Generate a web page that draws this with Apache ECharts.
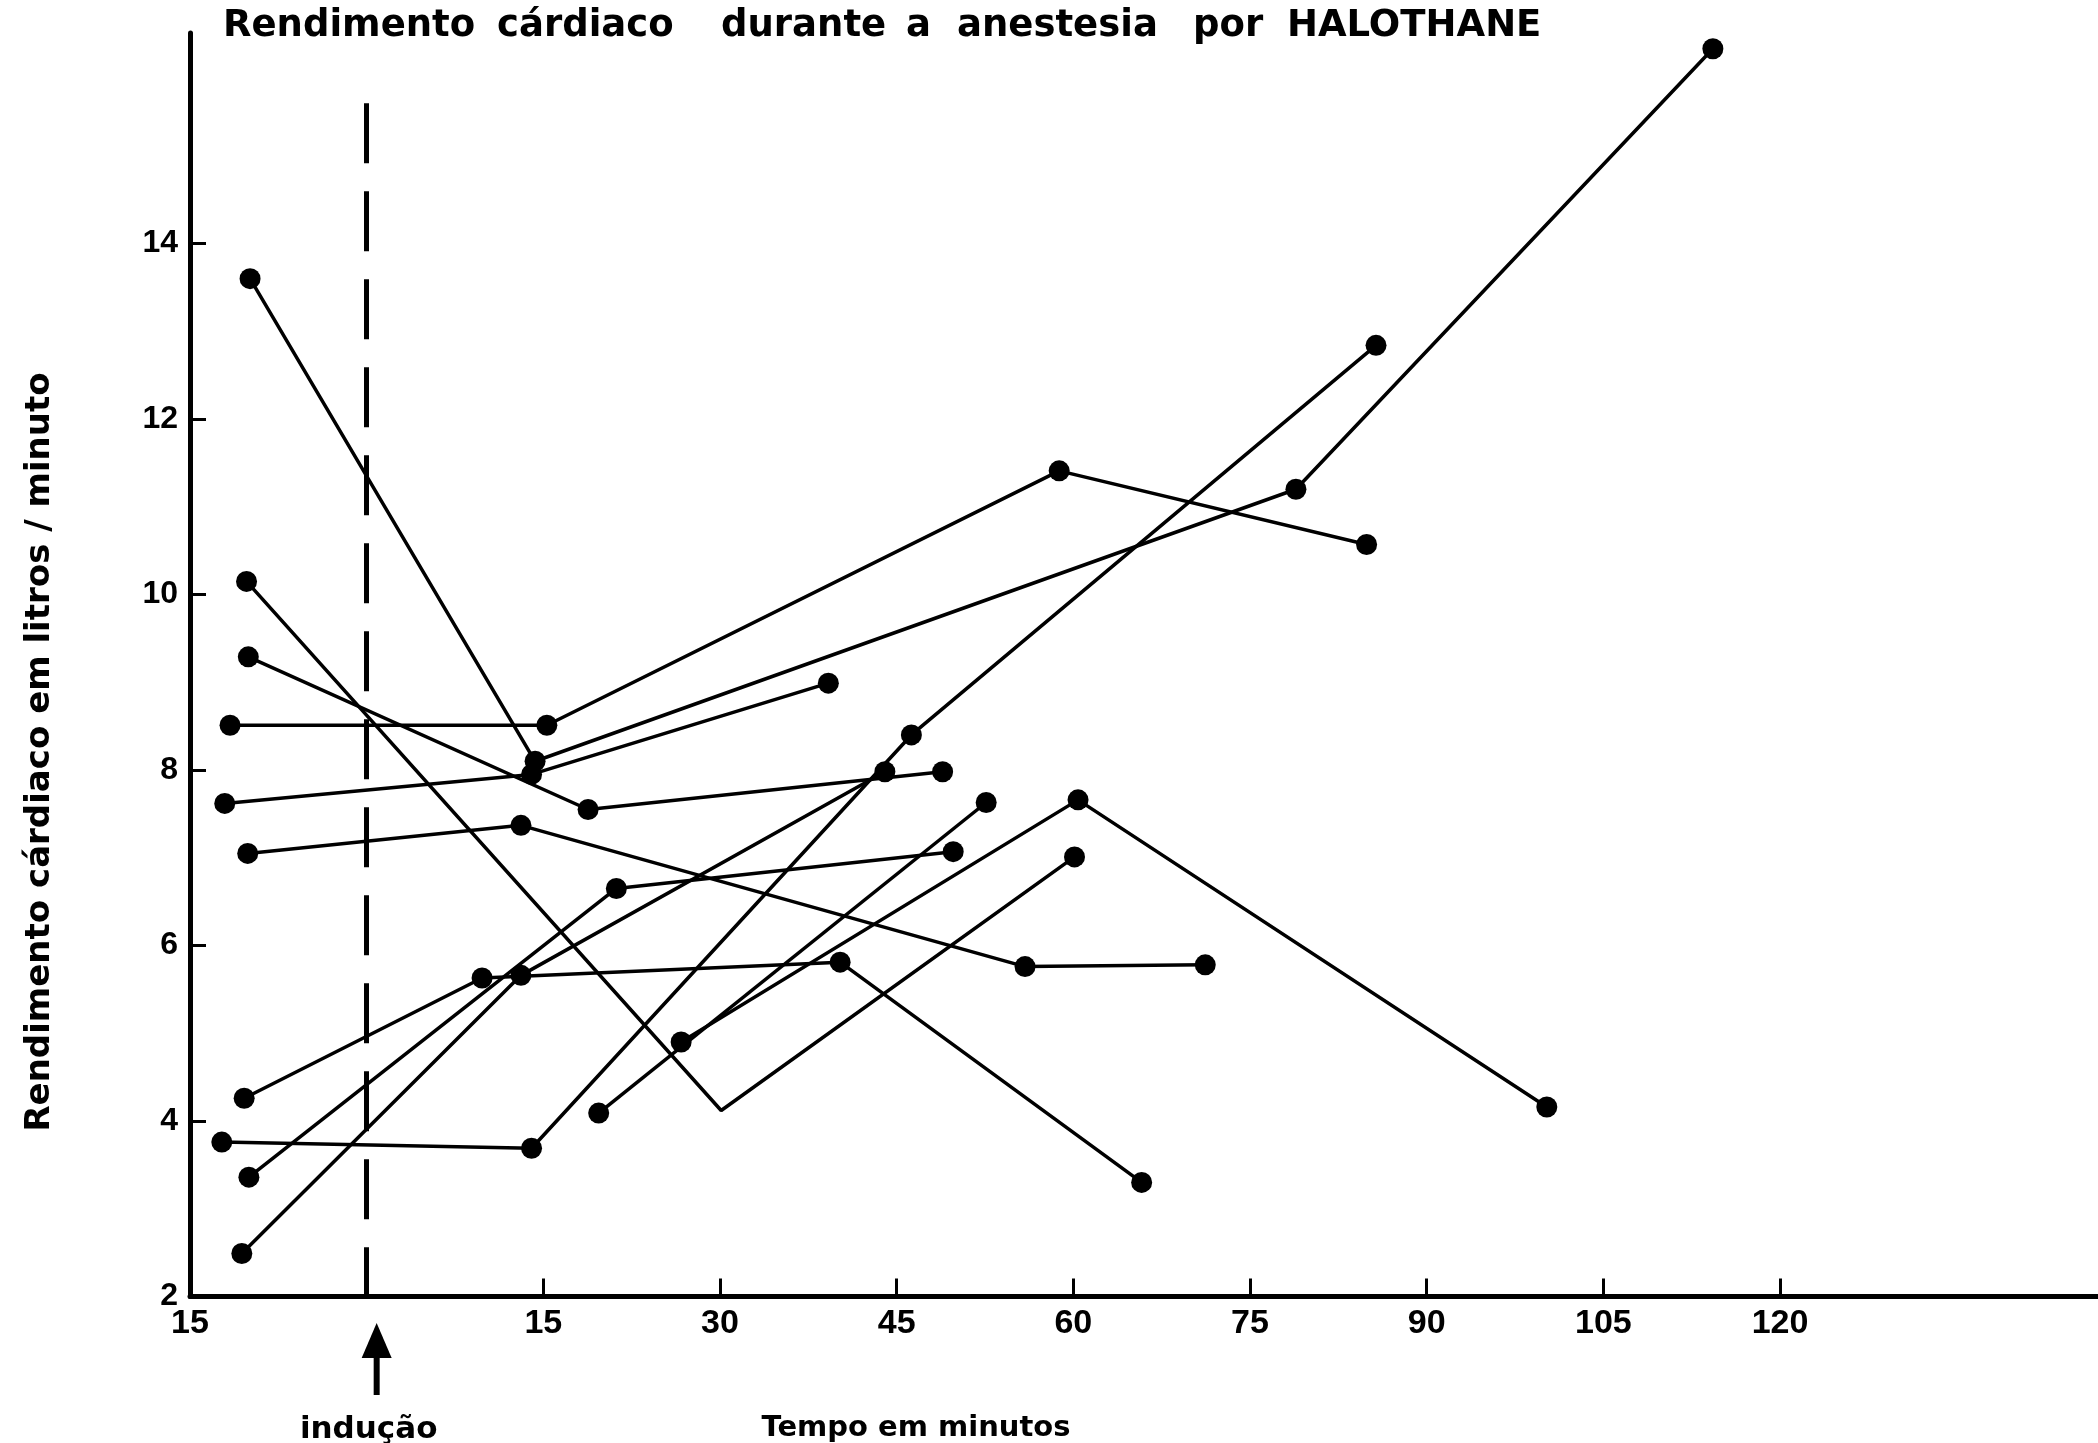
<!DOCTYPE html>
<html>
<head>
<meta charset="utf-8">
<script src="https://cdn.jsdelivr.net/npm/echarts@6/dist/echarts.min.js"></script>
<style>
html,body{margin:0;padding:0;background:#fff;}
#chart{width:2098px;height:1443px;}
</style>
</head>
<body>
<div id="chart"></div>
<script>
// ---- data: [minutes from induction, cardiac output (l/min)] ----
const p01 = [[-11.6, 8.51], [15.3, 8.51], [58.8, 11.41], [84.9, 10.57]];
const p02 = [[-9.9, 13.6], [14.3, 8.1], [78.9, 11.2], [114.3, 16.22]];
const p03 = [[-12.05, 7.62], [14.0, 7.95], [39.2, 8.99]];
const p04 = [[-10.05, 9.29], [18.8, 7.55], [48.9, 7.98]];
const p05 = [[-10.2, 10.15], [30.1, 4.12], [60.1, 7.01]];
const p06 = [[-10.1, 7.05], [13.1, 7.37], [55.9, 5.76], [71.2, 5.78]];
const p07 = [[-10.4, 4.26], [9.8, 5.63], [40.2, 5.81], [65.8, 3.3]];
const p08 = [[-10.0, 3.36], [21.2, 6.65], [49.8, 7.07]];
const p09 = [[-10.6, 2.49], [13.1, 5.66], [44.0, 7.98]];
const p10 = [[-12.3, 3.76], [14.0, 3.69], [46.25, 8.4], [85.7, 12.84]];
const p11 = [[19.7, 4.09], [52.6, 7.63]];
const p12 = [[26.7, 4.9], [60.4, 7.66], [100.2, 4.16]];
const patients = [p01, p02, p03, p04, p05, p06, p07, p08, p09, p10, p11, p12];
// points drawn as a bend of the line without a dot: [patient index, point index]
const noDot = [[4, 1]];

const xTickValues = [15, 30, 45, 60, 75, 90, 105, 120];
const xLabelValues = [-15, 15, 30, 45, 60, 75, 90, 105, 120];
const yTickValues = [4, 6, 8, 10, 12, 14];
const yLabelValues = [2, 4, 6, 8, 10, 12, 14];
const inductionTime = 0;
const inductionLineTop = 15.6;

const titleWords = ['Rendimento', 'cárdiaco', 'durante', 'a', 'anestesia', 'por', 'HALOTHANE'];
const yName = 'Rendimento cárdiaco em litros / minuto';
const xName = 'Tempo em minutos';
const inductionText = 'indução';

const FONT = '"DejaVu Sans"';
const chart = echarts.init(document.getElementById('chart'), null, {renderer: 'canvas'});

const series = patients.map((pts, si) => ({
  type: 'line',
  data: pts.map((p, pi) => {
    const hidden = noDot.some(d => d[0] === si && d[1] === pi);
    return hidden ? {value: p, symbolSize: 0} : {value: p};
  }),
  symbol: 'circle',
  symbolSize: 21,
  itemStyle: {color: '#000'},
  lineStyle: {color: '#000', width: 3.5},
  emphasis: {disabled: true},
  clip: false,
  z: 3
}));

series[0].markLine = {
  silent: true,
  symbol: ['none', 'none'],
  label: {show: false},
  lineStyle: {color: '#000', width: 5, type: [60, 28]},
  data: [[{coord: [inductionTime, inductionLineTop]}, {coord: [inductionTime, 2]}]]
};

chart.setOption({
  animation: false,
  backgroundColor: '#fff',
  grid: {left: 190, top: 33, right: 0, bottom: 146.5, containLabel: false},
  xAxis: {
    type: 'value',
    min: -15, max: 147, interval: 15,
    splitLine: {show: false},
    axisLine: {onZero: false, lineStyle: {color: '#000', width: 5}},
    axisTick: {show: true, inside: true, length: 18, customValues: xTickValues,
               lineStyle: {color: '#000', width: 3}},
    axisLabel: {customValues: xLabelValues, margin: 10,
                formatter: v => String(Math.abs(v)),
                fontFamily: 'Liberation Sans', fontWeight: 'bold', fontSize: 34, color: '#000'}
  },
  yAxis: {
    type: 'value',
    min: 2, max: 16.4, interval: 2,
    splitLine: {show: false},
    axisLine: {onZero: false, lineStyle: {color: '#000', width: 5}},
    axisTick: {show: true, inside: true, length: 16, customValues: yTickValues,
               lineStyle: {color: '#000', width: 3}},
    axisLabel: {customValues: yLabelValues, margin: 12,
                fontFamily: 'Liberation Sans', fontWeight: 'bold', fontSize: 32, color: '#000'}
  },
  series: series
});

// text layout (title words, axis names) and induction arrow
const titleX = [223, 497, 721, 906, 957, 1193, 1287];
const graphics = titleWords.map((w, i) => ({
  type: 'text', x: titleX[i], y: 26,
  style: {text: w, fill: '#000', font: 'bold 37px ' + FONT, textAlign: 'left', textVerticalAlign: 'middle'}
}));
graphics.push({
  type: 'text', x: 40, y: 752, rotation: Math.PI / 2,
  style: {text: yName, fill: '#000', font: 'bold 34px ' + FONT, textAlign: 'center', textVerticalAlign: 'middle'}
});
graphics.push({
  type: 'text', x: 916, y: 1428,
  style: {text: xName, fill: '#000', font: 'bold 29px ' + FONT, textAlign: 'center', textVerticalAlign: 'middle'}
});
const ax = chart.convertToPixel({xAxisIndex: 0}, inductionTime) + 10;
graphics.push(
  {type: 'polygon', shape: {points: [[ax, 1323], [ax - 15, 1358], [ax + 15, 1358]]}, style: {fill: '#000'}},
  {type: 'rect', shape: {x: ax - 3, y: 1350, width: 6, height: 45}, style: {fill: '#000'}},
  {type: 'text', x: ax - 8, y: 1430,
   style: {text: inductionText, fill: '#000', font: 'bold 31px ' + FONT, textAlign: 'center', textVerticalAlign: 'middle'}}
);
chart.setOption({graphic: graphics});
</script>
</body>
</html>
